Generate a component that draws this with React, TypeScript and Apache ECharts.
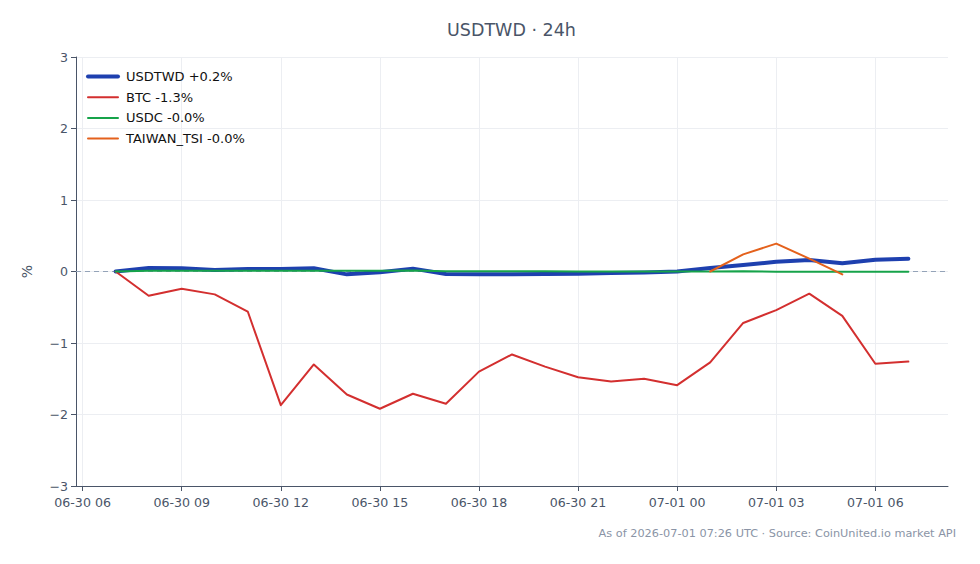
import React, { useEffect, useRef } from "react";
import * as echarts from "echarts";

const times = [
  "2026-06-30T07:00:00Z", "2026-06-30T08:00:00Z", "2026-06-30T09:00:00Z", "2026-06-30T10:00:00Z",
  "2026-06-30T11:00:00Z", "2026-06-30T12:00:00Z", "2026-06-30T13:00:00Z", "2026-06-30T14:00:00Z",
  "2026-06-30T15:00:00Z", "2026-06-30T16:00:00Z", "2026-06-30T17:00:00Z", "2026-06-30T18:00:00Z",
  "2026-06-30T19:00:00Z", "2026-06-30T20:00:00Z", "2026-06-30T21:00:00Z", "2026-06-30T22:00:00Z",
  "2026-06-30T23:00:00Z", "2026-07-01T00:00:00Z", "2026-07-01T01:00:00Z", "2026-07-01T02:00:00Z",
  "2026-07-01T03:00:00Z", "2026-07-01T04:00:00Z", "2026-07-01T05:00:00Z", "2026-07-01T06:00:00Z",
  "2026-07-01T07:00:00Z",
];

const usdtwd = [
  0, 0.05, 0.045, 0.02, 0.035, 0.035, 0.045, -0.04, -0.01, 0.04, -0.035, -0.04, -0.04,
  -0.035, -0.03, -0.02, -0.015, 0.0, 0.05, 0.09, 0.135, 0.16, 0.115, 0.165, 0.18,
];
const btc = [
  0, -0.34, -0.24, -0.32, -0.56, -1.87, -1.3, -1.72, -1.92, -1.71, -1.85, -1.4, -1.16,
  -1.33, -1.48, -1.54, -1.5, -1.59, -1.27, -0.72, -0.54, -0.31, -0.62, -1.29, -1.26,
];
const usdc = [
  0, 0.01, 0.01, 0.01, 0.01, 0.01, 0.01, 0.01, 0.01, 0.015, 0.005, 0.005, 0.005,
  0.005, 0.0, 0.0, 0.0, 0.0, 0.0, 0.005, -0.005, -0.005, -0.005, -0.005, -0.004,
];
const taiwanTsi = [
  null, null, null, null, null, null, null, null, null, null, null, null, null,
  null, null, null, null, null, 0, 0.24, 0.39, 0.18, -0.04, null, null,
];

const tickTimes = [
  "2026-06-30T06:00:00Z", "2026-06-30T09:00:00Z", "2026-06-30T12:00:00Z",
  "2026-06-30T15:00:00Z", "2026-06-30T18:00:00Z", "2026-06-30T21:00:00Z",
  "2026-07-01T00:00:00Z", "2026-07-01T03:00:00Z", "2026-07-01T06:00:00Z",
];
const tickLabels = [
  "06-30 06", "06-30 09", "06-30 12", "06-30 15", "06-30 18", "06-30 21",
  "07-01 00", "07-01 03", "07-01 06",
];
const yTicks = [-3, -2, -1, 0, 1, 2, 3];

const xMin = "2026-06-30T05:48:00Z";
const xMax = "2026-07-01T08:12:00Z";

const FONT = "DejaVu Sans";
const TEXT = "#4a5568";

function pairs(vals: (number | null)[]) {
  return times.map((t, i) => [new Date(t).getTime(), vals[i]]);
}

export default function App() {
  const ref = useRef<HTMLDivElement>(null);
  useEffect(() => {
    document.body.style.margin = "0";
    if (!ref.current) return;
    const chart = echarts.init(ref.current, undefined, { renderer: "svg" });
    const tickMs = tickTimes.map((t) => new Date(t).getTime());
    const fmtX = (v: number) => {
      const idx = tickMs.indexOf(v);
      return idx >= 0 ? tickLabels[idx] : "";
    };
    const mkSeries = (name: string, vals: (number | null)[], color: string, width: number, z: number) => ({
      name,
      type: "line",
      data: pairs(vals),
      symbol: "none",
      showSymbol: false,
      connectNulls: false,
      z,
      lineStyle: { color, width, join: "round", cap: "round" },
      itemStyle: { color },
    });
    chart.setOption({
      animation: false,
      backgroundColor: "#ffffff",
      textStyle: { fontFamily: FONT },
      title: {
        text: "USDTWD · 24h",
        left: 442,
        top: 16,
        textStyle: { fontFamily: FONT, fontSize: 17.5, fontWeight: "normal", color: TEXT },
      },
      grid: { left: 76, right: 32, top: 57, bottom: 78, containLabel: false },
      legend: {
        orient: "vertical",
        left: 81,
        top: 65,
        itemWidth: 30,
        itemHeight: 14,
        itemGap: 7.7,
        itemStyle: { opacity: 0 },
        textStyle: { fontFamily: FONT, fontSize: 13, color: "#111", padding: [0, 0, 0, 3] },
        data: [
          { name: "USDTWD +0.2%", lineStyle: { width: 4 } },
          { name: "BTC -1.3%", lineStyle: { width: 2 } },
          { name: "USDC -0.0%", lineStyle: { width: 2 } },
          { name: "TAIWAN_TSI -0.0%", lineStyle: { width: 2 } },
        ],
      },
      xAxis: {
        type: "value",
        min: new Date(xMin).getTime(),
        max: new Date(xMax).getTime(),
        axisLine: { show: true, onZero: false, lineStyle: { color: TEXT, width: 1 } },
        axisTick: { show: true, length: 5, lineStyle: { color: TEXT }, customValues: tickMs },
        axisLabel: {
          customValues: tickMs,
          formatter: fmtX,
          color: TEXT,
          fontSize: 12.6,
          fontFamily: FONT,
          margin: 10,
        },
        splitLine: { show: true, lineStyle: { color: "#eceef2", width: 1 } },
      },
      yAxis: {
        type: "value",
        min: -3,
        max: 3,
        interval: 1,
        name: "%",
        nameLocation: "middle",
        nameGap: 42,
        nameTextStyle: { fontFamily: FONT, fontSize: 14, color: TEXT },
        axisLine: { show: true, onZero: false, lineStyle: { color: TEXT, width: 1 } },
        axisTick: { show: true, length: 5, lineStyle: { color: TEXT } },
        axisLabel: {
          color: TEXT,
          fontSize: 12.6,
          fontFamily: FONT,
          margin: 8,
          formatter: (v: number) => (yTicks.includes(v) ? String(v).replace("-", "\u2212") : ""),
        },
        splitLine: { show: true, lineStyle: { color: "#eceef2", width: 1 } },
      },
      series: [
        {
          ...mkSeries("USDTWD +0.2%", usdtwd, "#1e40af", 4, 3),
          markLine: {
            silent: true,
            symbol: "none",
            label: { show: false },
            lineStyle: { color: "#94a3b8", type: [5, 4], width: 1 },
            data: [{ yAxis: 0 }],
            z: 1,
          },
        },
        mkSeries("BTC -1.3%", btc, "#d32f2f", 2, 4),
        mkSeries("USDC -0.0%", usdc, "#16a34a", 2, 5),
        mkSeries("TAIWAN_TSI -0.0%", taiwanTsi, "#e4611c", 2, 6),
      ],
      graphic: [
        {
          type: "text",
          right: 24,
          top: 528,
          style: {
            text: "As of 2026-07-01 07:26 UTC · Source: CoinUnited.io market API",
            fontFamily: FONT,
            fontSize: 11.3,
            fill: "#8a94a6",
          },
        },
      ],
    });
    return () => chart.dispose();
  }, []);
  return <div ref={ref} style={{ width: 980, height: 564 }} />;
}
